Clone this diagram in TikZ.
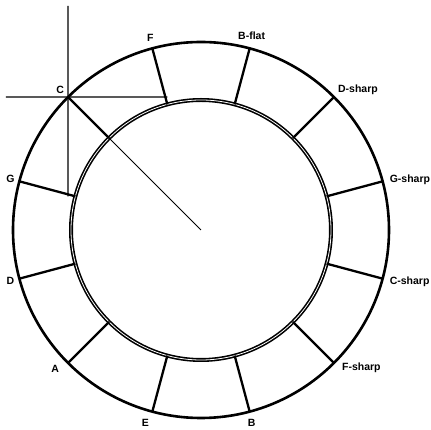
\documentclass[tikz,border=0pt]{standalone}
\usepackage{fontspec}
\setmainfont{Liberation Sans}
\usetikzlibrary{positioning}

\tikzset{
  lbl/.style={font=\fontsize{10.5}{12}\selectfont\bfseries, inner sep=1pt},
  ring/.style={line width=2.6pt},
  innerring/.style={double, line width=1.6pt, double distance=0.8pt},
  spoke/.style={line width=2.3pt},
  hair/.style={line width=1.3pt},
}

\begin{document}
\begin{tikzpicture}[x=1pt, y=1pt]
\useasboundingbox (-201,-200) rectangle (230,230);

%% Centre and the two rings
\coordinate (ctr) at (0,0);
\draw[ring] (ctr) circle (188pt);
\draw[innerring] (ctr) circle (130pt);

%% Spokes and note names (every 30 degrees)
\foreach \n/\a/\anc/\dx/\dy/\txt in {
    C/135/center/-8/7/C, F/105/center/-2/11/F, Bf/75/center/2/13/B-flat,
    Ds/45/west/3/7/D-sharp, Gs/15/west/6/2/G-sharp, Cs/-15/west/6/-3/C-sharp,
    Fs/-45/west/7/-5/F-sharp, B/-75/center/2/-11/B, E/-105/center/-7/-11/E,
    A/-135/center/-13/-6/A, D/-165/center/-9/-2/D, G/165/center/-9/2/G}{
  \coordinate (o-\n) at (\a:188pt);
  \coordinate (i-\n) at (\a:130pt);
  \draw[spoke] (i-\n) -- (o-\n);
  \node[lbl, anchor=\anc, xshift=\dx pt, yshift=\dy pt] (t-\n) at (o-\n) {\txt};
}

%% Cross hair through C
\coordinate (vtop) at (-133,224);
\coordinate (hleft) at (-195,133);
\draw[hair] (vtop) -- (o-C |- i-G);
\draw[hair] (hleft) -- (i-F |- o-C);

%% Pointer from C to the centre
\draw[line width=1pt] (o-C) -- (ctr);

\end{tikzpicture}
\end{document}
